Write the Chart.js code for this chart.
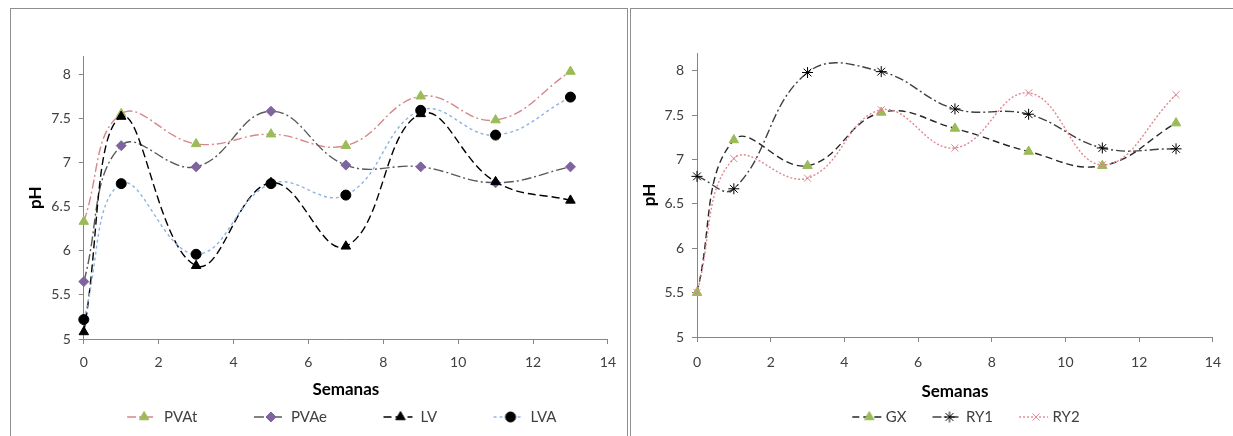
<!DOCTYPE html>
<html>
<head>
<meta charset="utf-8">
<script src="https://cdn.jsdelivr.net/npm/chart.js@4.4.1/dist/chart.umd.min.js"></script>
<style>
  html, body { margin: 0; padding: 0; background: #fff; }
  body { width: 1233px; height: 436px; overflow: hidden; position: relative; }
  .box { position: absolute; top: 8px; height: 440px; border: 1px solid #8e8e8e; background: #fff; }
  #boxA { left: 10px; width: 616px; }
  #boxB { left: 630px; width: 640px; }
  .box canvas { position: absolute; left: 0; top: 0; }
</style>
</head>
<body>
<div class="box" id="boxA"><canvas id="phA" width="615" height="427"></canvas></div>
<div class="box" id="boxB"><canvas id="phB" width="602" height="427"></canvas></div>
<script>
// semanas de muestreo
const weeks = [0, 1, 3, 5, 7, 9, 11, 13];

// pH - grafico izquierdo
const pvat = [6.33, 7.55, 7.21, 7.32, 7.19, 7.75, 7.48, 8.03];
const pvae = [5.65, 7.19, 6.95, 7.58, 6.97, 6.95, 6.77, 6.95];
const lv   = [5.08, 7.52, 5.83, 6.77, 6.05, 7.55, 6.78, 6.57];
const lva  = [5.22, 6.76, 5.96, 6.76, 6.63, 7.59, 7.31, 7.74];

// pH - grafico derecho
const gx  = [5.50, 7.22, 6.93, 7.53, 7.35, 7.09, 6.93, 7.41];
const ry1 = [6.81, 6.67, 7.98, 7.99, 7.57, 7.51, 7.13, 7.12];
const ry2 = [5.50, 7.01, 6.79, 7.56, 7.13, 7.75, 6.94, 7.73];

const xTicks = [0, 2, 4, 6, 8, 10, 12, 14];
const yTicks = [5, 5.5, 6, 6.5, 7, 7.5, 8];

Chart.defaults.font.family = "Lato, 'Open Sans', sans-serif";
Chart.defaults.color = '#404040';

const AXIS = '#868686';

// estilos de series
const seriesA = [
  { label: 'PVAt', values: pvat, line: '#d5878b', dash: [9, 3, 2, 3], shape: 'triangle', fill: '#9bbb59', edge: '#9bbb59', r: 5.5 },
  { label: 'PVAe', values: pvae, line: '#595959', dash: [10, 3, 2, 3], shape: 'rectRot', fill: '#8064a2', edge: '#8064a2', r: 5 },
  { label: 'LV',   values: lv,   line: '#000000', dash: [8, 4],       shape: 'triangle', fill: '#000000', edge: '#000000', r: 5.5 },
  { label: 'LVA',  values: lva,  line: '#8db3e2', dash: [3, 3],       shape: 'circle',   fill: '#000000', edge: '#000000', r: 5 }
];
const seriesB = [
  { label: 'GX',  values: gx,  line: '#262626', dash: [7, 4],       shape: 'triangle', fill: '#9bbb59', edge: '#9bbb59', r: 5.5 },
  { label: 'RY1', values: ry1, line: '#404040', dash: [9, 3, 2, 3], shape: 'star',     fill: '#000000', edge: '#000000', r: 5.5 },
  { label: 'RY2', values: ry2, line: '#e0868f', dash: [2, 2],       shape: 'crossRot', fill: '#e0868f', edge: '#e0868f', r: 5 }
];

// icono de leyenda: trozo de linea + marcador
function legendIcon(s, W, m) {
  const left = 17, right = 12;
  const h = Math.max(m + left - W / 2, W / 2 - m + right) + 1;
  const c = document.createElement('canvas');
  c.width = Math.ceil(2 * h);
  c.height = 16;
  const ctx = c.getContext('2d');
  const mx = h + W / 2 - m;
  ctx.strokeStyle = s.line;
  ctx.lineWidth = 1.4;
  ctx.setLineDash(s.dash);
  ctx.beginPath();
  ctx.moveTo(mx - left, 8);
  ctx.lineTo(mx + right, 8);
  ctx.stroke();
  ctx.setLineDash([]);
  ctx.fillStyle = s.fill;
  ctx.strokeStyle = s.edge;
  ctx.lineWidth = 1;
  Chart.helpers.drawPoint(ctx, { pointStyle: s.shape, radius: s.r, borderWidth: 1, rotation: 0 }, mx, 8);
  return c;
}

function makeDatasets(series) {
  return series.map((s, i) => ({
    label: s.label,
    data: weeks.map((w, k) => ({ x: w, y: s.values[k] })),
    borderColor: s.line,
    borderWidth: 1.4,
    borderDash: s.dash,
    pointStyle: s.shape,
    pointRadius: s.r,
    pointBackgroundColor: s.fill,
    pointBorderColor: s.edge,
    pointBorderWidth: 1,
    tension: 0.42,
    fill: false,
    clip: false,
    order: -i
  }));
}

const makeChart = (canvas, series, cfg) => {
  const icons = series.map(s => legendIcon(s, cfg.legendW, cfg.legendM));
  return new Chart(canvas, {
    type: 'line',
    data: { datasets: makeDatasets(series) },
    options: {
      responsive: false,
      animation: false,
      events: [],
      layout: { padding: cfg.padding },
      scales: {
        x: {
          type: 'linear',
          min: 0,
          max: 14,
          afterBuildTicks: sc => { sc.ticks = xTicks.map(v => ({ value: v })); },
          ticks: { padding: cfg.xTickPad, font: { size: 14 }, color: '#404040', callback: v => String(v) },
          grid: { drawOnChartArea: false, drawTicks: true, tickLength: 5, color: AXIS },
          border: { color: AXIS, width: 1 },
          title: { display: true, text: 'Semanas', color: '#000', font: { size: 17, weight: 'bold' }, padding: { top: 0, bottom: cfg.xTitlePad } },
          afterFit: sc => { sc.height = cfg.xHeight; }
        },
        y: {
          type: 'linear',
          min: 5,
          max: 8.2,
          afterBuildTicks: sc => { sc.ticks = yTicks.map(v => ({ value: v })); },
          ticks: { padding: 8, font: { size: 14 }, color: '#404040', callback: v => String(v) },
          grid: { drawOnChartArea: false, drawTicks: true, tickLength: 5, color: AXIS },
          border: { color: AXIS, width: 1 },
          title: { display: true, text: 'pH', color: '#000', font: { size: 17, weight: 'bold' }, padding: 0 },
          afterFit: sc => { sc.width = cfg.yWidth; }
        }
      },
      plugins: {
        tooltip: { enabled: false },
        legend: {
          position: 'bottom',
          fullSize: cfg.legendFull,
          labels: {
            usePointStyle: true,
            pointStyleWidth: cfg.legendW,
            boxHeight: 15,
            padding: cfg.legendPad,
            color: '#404040',
            font: { size: 15 },
            sort: (a, b) => a.datasetIndex - b.datasetIndex,
            generateLabels: chart => Chart.defaults.plugins.legend.labels.generateLabels(chart).map(item => {
              item.pointStyle = icons[item.datasetIndex];
              return item;
            })
          }
        }
      }
    }
  });
};

const chartA = makeChart(document.getElementById('phA'), seriesA, {
  padding: { left: 14, right: 14, top: 47.5, bottom: 1.5 },
  yWidth: 58.8, xHeight: 60.5, xTitlePad: 0, xTickPad: 10,
  legendW: 76, legendM: 12.5, legendPad: 10, legendFull: true
});

const chartB = makeChart(document.getElementById('phB'), seriesB, {
  padding: { left: 8.8, right: 12, top: 44, bottom: 1.5 },
  yWidth: 57.2, xHeight: 68.5, xTitlePad: 4, xTickPad: 12,
  legendW: 48, legendM: 9, legendPad: 4, legendFull: false
});
</script>
</body>
</html>
